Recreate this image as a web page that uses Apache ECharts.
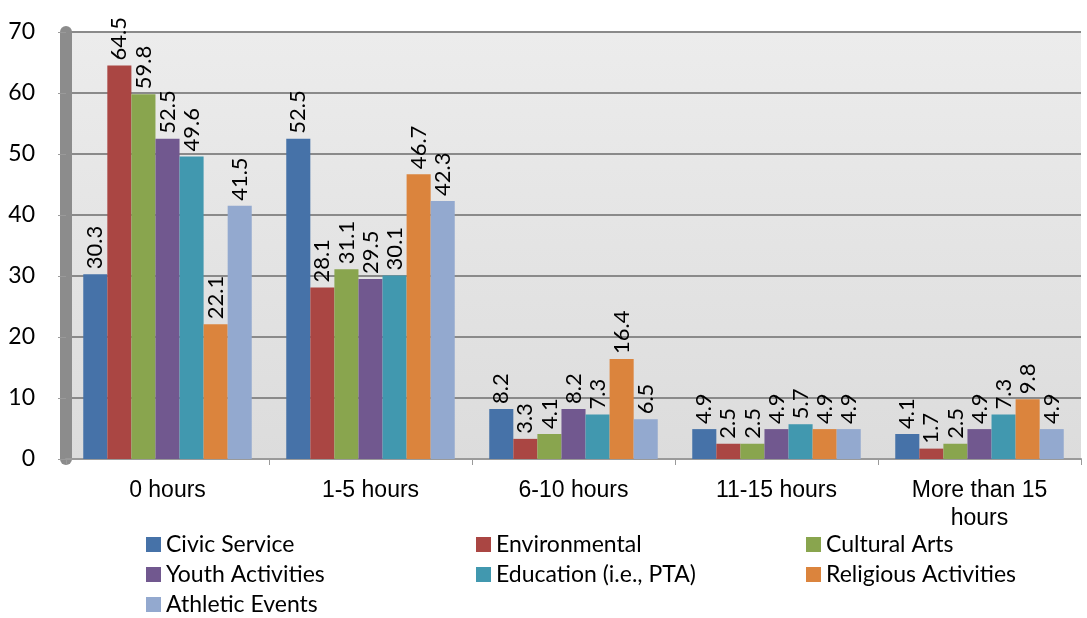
<!DOCTYPE html>
<html><head><meta charset="utf-8">
<script src="https://cdn.jsdelivr.net/npm/echarts@6/dist/echarts.min.js"></script>
<style>html,body{margin:0;padding:0;background:#fff}#c{width:1087px;height:618px}</style>
</head><body><div id="c"></div>
<script>
const categories = ["0 hours", "1-5 hours", "6-10 hours", "11-15 hours", "More than 15\nhours"];
const seriesNames = ["Civic Service", "Environmental", "Cultural Arts", "Youth Activities", "Education (i.e., PTA)", "Religious Activities", "Athletic Events"];
const civicService = [30.3, 52.5, 8.2, 4.9, 4.1];
const environmental = [64.5, 28.1, 3.3, 2.5, 1.7];
const culturalArts = [59.8, 31.1, 4.1, 2.5, 2.5];
const youthActivities = [52.5, 29.5, 8.2, 4.9, 4.9];
const education = [49.6, 30.1, 7.3, 5.7, 7.3];
const religious = [22.1, 46.7, 16.4, 4.9, 9.8];
const athletic = [41.5, 42.3, 6.5, 4.9, 4.9];
const yTicks = [0, 10, 20, 30, 40, 50, 60, 70];

const values = [civicService, environmental, culturalArts, youthActivities, education, religious, athletic];
const colors = ["#4672A8", "#AA4643", "#89A54E", "#71588F", "#4198AF", "#DB843D", "#93A9CF"];
const font = "Lato, 'Open Sans', sans-serif";
const arial = "'Liberation Sans', Arial, sans-serif";

const chart = echarts.init(document.getElementById('c'));
const legendCols = [[0, 3, 6], [1, 4], [2, 5]];
const legendX = [141, 471, 801];
chart.setOption({
  animation: false,
  color: colors,
  grid: {
    left: 66, right: 6, top: 32, bottom: 159, show: true, borderWidth: 0,
    backgroundColor: new echarts.graphic.LinearGradient(0, 0, 0, 1, [
      { offset: 0, color: '#ececec' }, { offset: 1, color: '#dcdcdc' }])
  },
  xAxis: {
    type: 'category', data: categories,
    axisLine: { show: true, lineStyle: { color: '#9a9a9a', width: 2 } },
    axisTick: { show: true, length: 6, lineStyle: { color: '#9a9a9a' } },
    axisLabel: { color: '#000', fontSize: 23, fontFamily: arial, margin: 18, lineHeight: 28 }
  },
  yAxis: {
    type: 'value', min: yTicks[0], max: yTicks[yTicks.length - 1], interval: 10,
    axisLine: { show: true, lineStyle: { color: '#8c8c8c', width: 12 } },
    axisTick: { show: true, length: 8, lineStyle: { color: '#9a9a9a' } },
    splitLine: { lineStyle: { color: '#8a8a8a', width: 2 } },
    axisLabel: { color: '#000', fontSize: 23, fontFamily: font, margin: 31 }
  },
  legend: legendCols.map((col, i) => ({
    left: legendX[i], top: 528, orient: 'vertical', itemGap: 7, height: 90,
    itemWidth: 15, itemHeight: 15, icon: 'rect',
    textStyle: { fontSize: 23, lineHeight: 23, fontFamily: font, color: '#000' },
    data: col.map(k => seriesNames[k])
  })),
  series: seriesNames.map((name, i) => ({
    name, type: 'bar', data: values[i],
    barGap: '0%', barCategoryGap: '17%',
    itemStyle: { color: colors[i] },
    label: {
      show: true, position: 'top', rotate: 90, align: 'left', verticalAlign: 'middle',
      distance: 5, fontSize: 22, fontFamily: font, color: '#000'
    }
  }))
});
</script></body></html>
